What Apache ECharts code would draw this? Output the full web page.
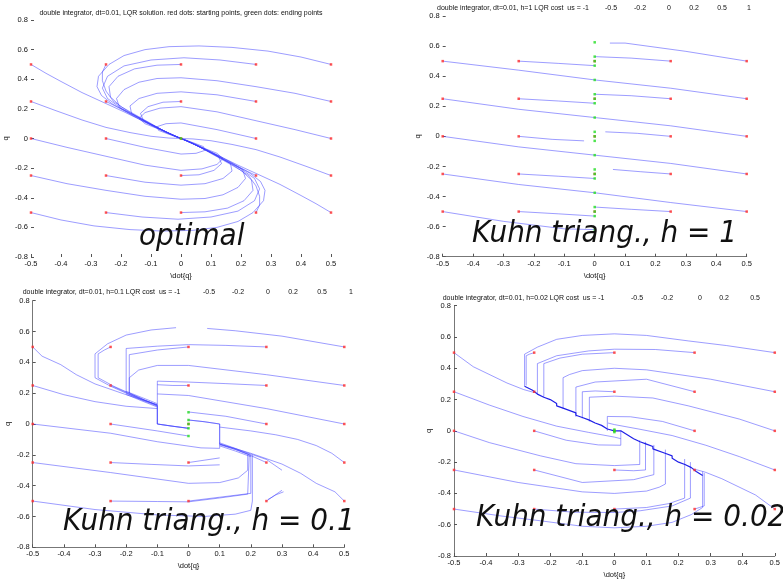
<!DOCTYPE html>
<html><head><meta charset="utf-8">
<script src="https://cdn.jsdelivr.net/npm/echarts@6/dist/echarts.min.js"></script>
<style>html,body{margin:0;padding:0;background:#fff}#c{width:783px;height:580px}</style>
</head><body><div id="c"></div>
<script>
// ---------- DATA ----------
const startQdot = [-0.5, -0.25, 0, 0.25, 0.5];
const startQ = [0.5, 0.25, 0, -0.25, -0.5];
const xTicks = [-0.5, -0.4, -0.3, -0.2, -0.1, 0, 0.1, 0.2, 0.3, 0.4, 0.5];
const yTicks = [-0.8, -0.6, -0.4, -0.2, 0, 0.2, 0.4, 0.6, 0.8];
const usLabels = ['-0.5', '-0.2', '0', '0.2', '0.5', '1'];

const titles = [
  'double integrator, dt=0.01, LQR solution. red dots: starting points, green dots: ending points',
  'double integrator, dt=0.01, h=1 LQR cost  us = -1',
  'double integrator, dt=0.01, h=0.1 LQR cost  us = -1',
  'double integrator, dt=0.01, h=0.02 LQR cost  us = -1'
];
const bigLabels = ['optimal', 'Kuhn triang., h = 1', 'Kuhn triang., h = 0.1', 'Kuhn triang., h = 0.02'];

// optimal LQR trajectories
const optimalPaths = [
  [[0.5,0.5],[0.4,0.55],[0.29,0.59],[0.17,0.615],[0.06,0.625],[-0.04,0.62],[-0.12,0.6],[-0.19,0.56],[-0.24,0.5],[-0.275,0.42],[-0.28,0.35],[-0.265,0.29],[-0.23,0.235],[-0.17,0.165],[-0.1,0.09],[-0.05,0.04],[-0.015,0.01],[0,0]],
  [[0.25,0.5],[0.13,0.53],[0.01,0.545],[-0.1,0.53],[-0.19,0.49],[-0.245,0.42],[-0.262,0.34],[-0.245,0.27],[-0.2,0.205],[-0.13,0.13],[-0.06,0.055],[-0.02,0.015],[0,0]],
  [[0,0.5],[-0.08,0.495],[-0.155,0.47],[-0.21,0.42],[-0.24,0.35],[-0.235,0.28],[-0.2,0.215],[-0.13,0.135],[-0.06,0.055],[-0.02,0.015],[0,0]],
  [[-0.25,0.5],[-0.262,0.45],[-0.262,0.39],[-0.25,0.32],[-0.225,0.25],[-0.17,0.175],[-0.1,0.095],[-0.04,0.035],[0,0]],
  [[-0.5,0.5],[-0.45,0.44],[-0.4,0.385],[-0.33,0.31],[-0.26,0.245],[-0.19,0.18],[-0.12,0.11],[-0.05,0.045],[0,0]],
  [[0.5,0.25],[0.38,0.305],[0.25,0.35],[0.12,0.39],[0,0.41],[-0.08,0.405],[-0.14,0.38],[-0.19,0.33],[-0.215,0.27],[-0.205,0.21],[-0.16,0.155],[-0.1,0.095],[-0.04,0.035],[0,0]],
  [[0.25,0.25],[0.12,0.295],[0,0.315],[-0.08,0.305],[-0.14,0.27],[-0.17,0.22],[-0.165,0.17],[-0.12,0.115],[-0.06,0.055],[0,0]],
  [[0,0.25],[-0.06,0.245],[-0.11,0.215],[-0.135,0.17],[-0.125,0.12],[-0.085,0.075],[-0.035,0.03],[0,0]],
  [[-0.25,0.25],[-0.2,0.2],[-0.14,0.14],[-0.08,0.075],[-0.03,0.025],[0,0]],
  [[-0.5,0.25],[-0.42,0.19],[-0.33,0.125],[-0.25,0.075],[-0.17,0.04],[-0.1,0.015],[-0.04,0.003],[0,0]],
  [[0.5,0],[0.38,0.06],[0.25,0.12],[0.12,0.18],[0,0.215],[-0.07,0.205],[-0.12,0.175],[-0.14,0.135],[-0.12,0.1],[-0.07,0.06],[-0.025,0.02],[0,0]],
  [[0.25,0],[0.12,0.06],[0,0.105],[-0.05,0.1],[-0.08,0.08],[-0.075,0.055],[-0.04,0.028],[0,0]],
  [[-0.5,-0.5],[-0.4,-0.55],[-0.29,-0.59],[-0.17,-0.615],[-0.06,-0.625],[0.04,-0.62],[0.12,-0.6],[0.19,-0.56],[0.24,-0.5],[0.275,-0.42],[0.28,-0.35],[0.265,-0.29],[0.23,-0.235],[0.17,-0.165],[0.1,-0.09],[0.05,-0.04],[0.015,-0.01],[0,0]],
  [[-0.25,-0.5],[-0.13,-0.53],[-0.01,-0.545],[0.1,-0.53],[0.19,-0.49],[0.245,-0.42],[0.262,-0.34],[0.245,-0.27],[0.2,-0.205],[0.13,-0.13],[0.06,-0.055],[0.02,-0.015],[0,0]],
  [[0,-0.5],[0.08,-0.495],[0.155,-0.47],[0.21,-0.42],[0.24,-0.35],[0.235,-0.28],[0.2,-0.215],[0.13,-0.135],[0.06,-0.055],[0.02,-0.015],[0,0]],
  [[0.25,-0.5],[0.262,-0.45],[0.262,-0.39],[0.25,-0.32],[0.225,-0.25],[0.17,-0.175],[0.1,-0.095],[0.04,-0.035],[0,0]],
  [[0.5,-0.5],[0.45,-0.44],[0.4,-0.385],[0.33,-0.31],[0.26,-0.245],[0.19,-0.18],[0.12,-0.11],[0.05,-0.045],[0,0]],
  [[-0.5,-0.25],[-0.38,-0.305],[-0.25,-0.35],[-0.12,-0.39],[0,-0.41],[0.08,-0.405],[0.14,-0.38],[0.19,-0.33],[0.215,-0.27],[0.205,-0.21],[0.16,-0.155],[0.1,-0.095],[0.04,-0.035],[0,0]],
  [[-0.25,-0.25],[-0.12,-0.295],[0,-0.315],[0.08,-0.305],[0.14,-0.27],[0.17,-0.22],[0.165,-0.17],[0.12,-0.115],[0.06,-0.055],[0,0]],
  [[0,-0.25],[0.06,-0.245],[0.11,-0.215],[0.135,-0.17],[0.125,-0.12],[0.085,-0.075],[0.035,-0.03],[0,0]],
  [[0.25,-0.25],[0.2,-0.2],[0.14,-0.14],[0.08,-0.075],[0.03,-0.025],[0,0]],
  [[0.5,-0.25],[0.42,-0.19],[0.33,-0.125],[0.25,-0.075],[0.17,-0.04],[0.1,-0.015],[0.04,-0.003],[0,0]],
  [[-0.5,0],[-0.38,-0.06],[-0.25,-0.12],[-0.12,-0.18],[0,-0.215],[0.07,-0.205],[0.12,-0.175],[0.14,-0.135],[0.12,-0.1],[0.07,-0.06],[0.025,-0.02],[0,0]],
  [[-0.25,0],[-0.12,-0.06],[0,-0.105],[0.05,-0.1],[0.08,-0.08],[0.075,-0.055],[0.04,-0.028],[0,0]]
];
const optimalEnds = [[0,0]];

// Kuhn triangulation h = 1
const h1Paths = [
  [[0.5,0.5],[0.3,0.565],[0.1,0.62],[0.05,0.62]],
  [[0.25,0.5],[0.12,0.52],[0,0.53]],
  [[-0.25,0.5],[-0.12,0.485],[0,0.47]],
  [[-0.5,0.5],[-0.25,0.44],[0,0.375]],
  [[0.5,0.25],[0.25,0.32],[0,0.375]],
  [[0.25,0.25],[0.12,0.27],[0,0.28]],
  [[-0.25,0.25],[-0.12,0.235],[0,0.22]],
  [[-0.5,0.25],[-0.25,0.18],[0,0.125]],
  [[0.5,0],[0.25,0.07],[0,0.125]],
  [[0.25,0],[0.14,0.02],[0.035,0.03]],
  [[-0.25,0],[-0.14,-0.02],[-0.035,-0.03]],
  [[-0.5,0],[-0.25,-0.07],[0,-0.125]],
  [[0.5,-0.25],[0.25,-0.18],[0,-0.125]],
  [[0.25,-0.25],[0.15,-0.235],[0.06,-0.22]],
  [[-0.25,-0.25],[-0.12,-0.265],[0,-0.28]],
  [[-0.5,-0.25],[-0.25,-0.32],[0,-0.375]],
  [[0.5,-0.5],[0.25,-0.44],[0,-0.375]],
  [[0.25,-0.5],[0.12,-0.485],[0,-0.47]],
  [[-0.25,-0.5],[-0.12,-0.515],[0,-0.53]],
  [[-0.5,-0.5],[-0.3,-0.565],[-0.1,-0.615],[0,-0.62]]
];
const h1Ends = [[0,0.625],[0,0.53],[0,0.5],[0,0.47],[0,0.375],[0,0.28],[0,0.25],[0,0.22],[0,0.125],[0,0.03],[0,0],[0,-0.03],[0,-0.125],[0,-0.22],[0,-0.25],[0,-0.28],[0,-0.375],[0,-0.47],[0,-0.5],[0,-0.53],[0,-0.62]];

// Kuhn triangulation h = 0.1
const h01Paths = [
  [[0.5,0.5],[0.3,0.57],[0.15,0.605],[0.06,0.62]],
  [[-0.04,0.625],[-0.12,0.61],[-0.2,0.577],[-0.26,0.52],[-0.3,0.455],[-0.3,0.3],[-0.25,0.245],[-0.2,0.2],[-0.15,0.16],[-0.1,0.12],[-0.1,0.0],[-0.05,-0.015],[0,-0.028]],
  [[0.25,0.5],[0.12,0.51],[0,0.515],[-0.1,0.505],[-0.2,0.49],[-0.2,0.2],[-0.15,0.155],[-0.1,0.115],[-0.1,0.0],[0,-0.028]],
  [[0,0.5],[-0.1,0.48],[-0.19,0.45],[-0.19,0.2],[-0.14,0.155],[-0.1,0.12]],
  [[-0.25,0.5],[-0.27,0.48],[-0.29,0.455],[-0.29,0.3],[-0.24,0.245],[-0.19,0.2],[-0.14,0.155],[-0.1,0.12]],
  [[-0.5,0.5],[-0.47,0.44],[-0.41,0.385],[-0.36,0.32],[-0.3,0.26],[-0.2,0.19],[-0.1,0.125]],
  [[0.5,0.25],[0.25,0.32],[0,0.38],[-0.1,0.38],[-0.16,0.35],[-0.19,0.3],[-0.19,0.2]],
  [[0.25,0.25],[0.12,0.262],[0,0.272],[-0.1,0.278],[-0.1,0.0],[-0.05,-0.015],[0,-0.028]],
  [[0,0.25],[-0.05,0.25],[-0.1,0.255]],
  [[-0.25,0.25],[-0.2,0.205],[-0.15,0.16],[-0.1,0.125]],
  [[-0.5,0.25],[-0.4,0.19],[-0.3,0.145],[-0.2,0.115],[-0.1,0.1]],
  [[0.5,0],[0.25,0.1],[0,0.185],[-0.1,0.195]],
  [[0.25,0],[0.12,0.05],[0,0.078]],
  [[-0.2,0.212],[-0.15,0.172],[-0.1,0.132]],
  [[-0.2,0.192],[-0.15,0.15],[-0.1,0.11]],
  [[-0.5,-0.5],[-0.3,-0.555],[-0.1,-0.59],[0.05,-0.6],[0.15,-0.585],[0.2,-0.56],[0.205,-0.5],[0.205,-0.2]],
  [[-0.25,-0.5],[-0.1,-0.503],[0,-0.505],[0.1,-0.48],[0.19,-0.455],[0.195,-0.2],[0.15,-0.16],[0.1,-0.13],[0.1,0],[0.05,0.015],[0,0.026]],
  [[0,-0.5],[0.1,-0.475],[0.2,-0.45],[0.2,-0.2],[0.15,-0.165],[0.1,-0.135]],
  [[0.25,-0.5],[0.275,-0.465],[0.3,-0.43]],
  [[0.255,-0.49],[0.28,-0.46],[0.305,-0.44]],
  [[0.5,-0.5],[0.47,-0.44],[0.41,-0.385],[0.36,-0.32],[0.3,-0.26],[0.2,-0.19],[0.1,-0.13]],
  [[-0.5,-0.25],[-0.25,-0.315],[0,-0.385],[0.1,-0.38],[0.16,-0.35],[0.19,-0.3],[0.19,-0.2]],
  [[-0.25,-0.25],[-0.12,-0.262],[0,-0.272],[0.1,-0.265]],
  [[0,-0.25],[0.05,-0.235],[0.1,-0.22]],
  [[0.25,-0.25],[0.2,-0.205],[0.15,-0.165],[0.1,-0.13]],
  [[0.5,-0.25],[0.46,-0.19],[0.41,-0.14],[0.35,-0.1],[0.28,-0.07],[0.2,-0.045],[0.1,-0.02]],
  [[-0.5,0],[-0.25,-0.06],[-0.1,-0.115],[0.04,-0.155],[0.1,-0.158],[0.1,0],[0.05,0.015],[0,0.026]],
  [[-0.25,0],[-0.1,-0.045],[0,-0.078]],
  [[0.1,-0.122],[0.15,-0.158],[0.2,-0.195],[0.25,-0.23],[0.3,-0.3]],
  [[0.1,-0.142],[0.15,-0.175],[0.2,-0.212]]
];
const h01Ends = [[0,0.076],[0,0.026],[0,0],[0,-0.028],[0,-0.078]];

// Kuhn triangulation h = 0.02
const h002Paths = [
  [[0.5,0.5],[0.35,0.545],[0.23,0.575],[0.1,0.61],[0,0.62],[-0.1,0.61],[-0.18,0.585],[-0.24,0.535],[-0.28,0.49],[-0.28,0.285]],
  [[-0.25,0.5],[-0.265,0.49],[-0.275,0.48],[-0.275,0.29]],
  [[0.25,0.5],[0.128,0.52],[0,0.522],[-0.08,0.511],[-0.18,0.48],[-0.24,0.43],[-0.24,0.235]],
  [[0,0.5],[-0.1,0.49],[-0.17,0.465],[-0.22,0.43],[-0.22,0.215]],
  [[0.5,0.25],[0.3,0.33],[0.1,0.39],[0,0.4],[-0.1,0.385],[-0.14,0.36],[-0.16,0.34],[-0.16,0.14]],
  [[0.25,0.25],[0.1,0.33],[-0.06,0.312],[-0.12,0.28],[-0.12,0.09]],
  [[0,0.25],[-0.06,0.255],[-0.1,0.25],[-0.1,0.08]],
  [[0.5,0],[0.39,0.075],[0.23,0.16],[0.12,0.21],[0,0.222],[-0.078,0.215],[-0.078,0.06]],
  [[0.25,0],[0.15,0.06],[0.05,0.09],[-0.022,0.092],[-0.022,0]],
  [[-0.5,0.5],[-0.44,0.41],[-0.335,0.306],[-0.283,0.264],[-0.25,0.245]],
  [[-0.5,0.25],[-0.39,0.165],[-0.285,0.092],[-0.18,0.03],[-0.08,-0.01],[0,-0.04],[0.02,-0.05]],
  [[-0.5,-0.5],[-0.35,-0.545],[-0.23,-0.575],[-0.1,-0.61],[0,-0.62],[0.1,-0.61],[0.18,-0.585],[0.24,-0.535],[0.275,-0.49],[0.275,-0.26]],
  [[0.25,-0.5],[0.265,-0.49],[0.28,-0.48],[0.28,-0.27]],
  [[-0.25,-0.5],[-0.128,-0.52],[0,-0.522],[0.08,-0.511],[0.18,-0.48],[0.237,-0.43],[0.237,-0.2]],
  [[0,-0.5],[0.1,-0.49],[0.17,-0.465],[0.219,-0.43],[0.219,-0.18]],
  [[-0.5,-0.25],[-0.3,-0.33],[-0.1,-0.39],[0,-0.4],[0.1,-0.385],[0.14,-0.36],[0.159,-0.34],[0.159,-0.12]],
  [[-0.25,-0.25],[-0.1,-0.33],[0.06,-0.312],[0.123,-0.28],[0.123,-0.09]],
  [[0,-0.25],[0.06,-0.255],[0.097,-0.25],[0.097,-0.07]],
  [[-0.5,0],[-0.39,-0.075],[-0.23,-0.16],[-0.12,-0.21],[0,-0.222],[0.079,-0.215],[0.079,-0.06]],
  [[-0.25,0],[-0.15,-0.06],[-0.05,-0.09],[0.02,-0.092],[0.02,0]],
  [[0.5,-0.5],[0.44,-0.41],[0.335,-0.306],[0.283,-0.264],[0.25,-0.245]],
  [[0.5,-0.25],[0.39,-0.165],[0.285,-0.092],[0.18,-0.03],[0.08,0.01],[0,0.04],[-0.02,0.05]]
];
const h002Stairs = [
  [[-0.28,0.285],[-0.255,0.26],[-0.24,0.235],[-0.22,0.215],[-0.2,0.2],[-0.18,0.175],[-0.18,0.16],[-0.16,0.145],[-0.12,0.115],[-0.12,0.1],[-0.1,0.085],[-0.08,0.07],[-0.06,0.05],[-0.04,0.035],[-0.04,0.025],[-0.022,0.012],[-0.022,0],[0,0]],
  [[0,0],[0.02,0],[0.02,-0.012],[0.04,-0.025],[0.04,-0.035],[0.06,-0.05],[0.08,-0.07],[0.1,-0.085],[0.12,-0.1],[0.12,-0.115],[0.16,-0.145],[0.18,-0.16],[0.18,-0.175],[0.2,-0.2],[0.22,-0.215],[0.24,-0.235],[0.255,-0.26],[0.275,-0.285]]
];
const h002Ends = [[0,0],[0,0.008],[0,-0.008]];

// ---------- LAYOUT ----------
const grids = [
  {left: 31, top: 20, width: 300, height: 237},
  {left: 442.7, top: 16, width: 304, height: 240.7},
  {left: 32.7, top: 300.7, width: 311.6, height: 246.6},
  {left: 454, top: 305.7, width: 322.7, height: 254.6}
];
const showXLine = [false, true, true, true];
const showYLine = [false, false, true, true];
const tickFont = 'Liberation Sans';

const chart = echarts.init(document.getElementById('c'), null, {renderer: 'canvas'});
const xAxis = [], yAxis = [], series = [];
grids.forEach((g, i) => {
  xAxis.push({
    gridIndex: i, type: 'value', min: xTicks[0], max: xTicks[xTicks.length - 1], interval: 0.1,
    axisLine: {show: showXLine[i], onZero: false, lineStyle: {color: '#777', width: 1}},
    axisTick: {show: true, inside: true, length: 3, lineStyle: {color: '#555'}},
    axisLabel: {fontSize: 7.5, color: '#111', margin: 3, fontFamily: tickFont,
      formatter: v => String(Math.round(v * 10) / 10)},
    splitLine: {show: false},
    name: '\\dot{q}', nameLocation: 'middle', nameGap: 15,
    nameTextStyle: {fontSize: 7.5, color: '#111', fontFamily: tickFont}
  });
  yAxis.push({
    gridIndex: i, type: 'value', min: yTicks[0], max: yTicks[yTicks.length - 1], interval: 0.2,
    axisLine: {show: showYLine[i], onZero: false, lineStyle: {color: '#777', width: 1}},
    axisTick: {show: true, inside: true, length: 3, lineStyle: {color: '#555'}},
    axisLabel: {fontSize: 7.5, color: '#111', margin: 3, fontFamily: tickFont,
      formatter: v => String(Math.round(v * 10) / 10)},
    splitLine: {show: false},
    name: 'q', nameLocation: 'middle', nameGap: 21, nameRotate: 90,
    nameTextStyle: {fontSize: 7.5, color: '#111', fontFamily: tickFont}
  });
});

const lineColor = 'rgba(60,60,255,0.5)';
function addPaths(paths, gi, color, width) {
  paths.forEach(p => series.push({
    type: 'line', xAxisIndex: gi, yAxisIndex: gi, data: p, showSymbol: false, symbol: 'none',
    lineStyle: {color: color, width: width}, silent: true, animation: false, z: 2
  }));
}
addPaths(optimalPaths, 0, lineColor, 1);
addPaths(h1Paths, 1, lineColor, 1);
addPaths(h01Paths, 2, lineColor, 1);
addPaths(h002Paths, 3, lineColor, 1);
addPaths(h002Stairs, 3, 'rgba(20,20,230,0.95)', 1.2);

const starts = [];
startQ.forEach(q => startQdot.forEach(v => starts.push([v, q])));
const ends = [optimalEnds, h1Ends, h01Ends, h002Ends];
for (let i = 0; i < 4; i++) {
  series.push({type: 'scatter', xAxisIndex: i, yAxisIndex: i, data: starts, symbol: 'rect', symbolSize: 2.5,
    itemStyle: {color: '#ff2a2a'}, silent: true, animation: false, z: 3});
  series.push({type: 'scatter', xAxisIndex: i, yAxisIndex: i, data: ends[i], symbol: 'rect', symbolSize: 2.5,
    itemStyle: {color: '#22dd22'}, silent: true, animation: false, z: 4});
}

// titles and big labels
const titleFont = '7px "Liberation Sans", Arial, sans-serif';
const graphic = [];
function txt(x, y, s, font, align) {
  graphic.push({type: 'text', x: x, y: y, z: 100, silent: true,
    style: {text: s, font: font, fill: '#111', align: align || 'left', verticalAlign: 'middle'}});
}
txt(181, 13, titles[0], titleFont, 'center');
const usX = [[611, 640, 669, 694, 722, 749], [209, 238, 268, 293, 322, 351], [637, 667, 700, 724, 755, 786]];
const titleLeft = [[437, 8], [22.7, 292], [442.7, 297.7]];
for (let k = 0; k < 3; k++) {
  txt(titleLeft[k][0], titleLeft[k][1], titles[k + 1], titleFont, 'left');
  usLabels.forEach((s, j) => txt(usX[k][j], titleLeft[k][1], s, titleFont, 'center'));
}
const bigFont = 'italic 31px "DejaVu Sans Condensed", "DejaVu Sans", sans-serif';
const bigPos = [[139, 237], [472, 234], [63, 522], [476, 518]];
bigLabels.forEach((s, i) => txt(bigPos[i][0], bigPos[i][1], s, bigFont, 'left'));

chart.setOption({
  animation: false,
  grid: grids.map(g => Object.assign({containLabel: false}, g)),
  xAxis: xAxis, yAxis: yAxis, series: series, graphic: graphic
});
</script></body></html>
